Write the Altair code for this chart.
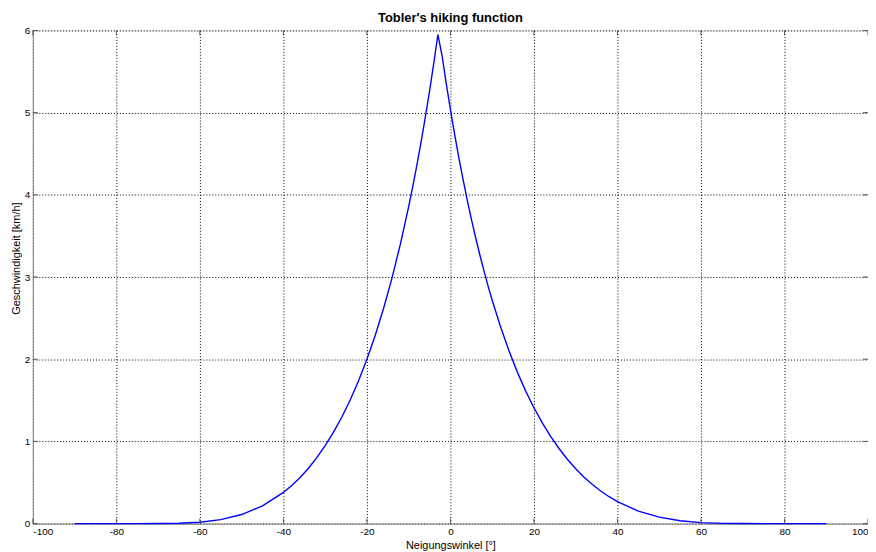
import altair as alt
import pandas as pd

angles = [-90, -85, -80, -75, -70, -65, -60, -55, -50, -45, -40, -38, -36, -34, -32,
          -30, -28, -26, -24, -22, -20, -18, -16, -14, -12, -10, -9, -8, -7, -6, -5,
          -4, -3, -2, -1, 0, 1, 2, 3, 4, 5, 6, 7, 8, 9, 10, 12, 14, 16, 18, 20, 22,
          24, 26, 28, 30, 32, 34, 36, 38, 40, 45, 50, 55, 60, 65, 70, 75, 80, 85, 90]
speeds = [0.0, 0.0, 0.0, 0.0, 0.0005, 0.0039, 0.0167, 0.048, 0.110, 0.216, 0.379,
          0.464, 0.562, 0.674, 0.802, 0.948, 1.112, 1.297, 1.504, 1.738, 2.000,
          2.292, 2.620, 2.987, 3.397, 3.856, 4.106, 4.370, 4.651, 4.948, 5.262,
          5.596, 5.950, 5.692, 5.354, 5.037, 4.738, 4.457, 4.193, 3.943, 3.708,
          3.487, 3.277, 3.080, 2.893, 2.717, 2.394, 2.105, 1.846, 1.615, 1.409,
          1.225, 1.060, 0.914, 0.783, 0.668, 0.565, 0.475, 0.396, 0.327, 0.267,
          0.152, 0.078, 0.034, 0.0117, 0.0028, 0.0003, 0.0, 0.0, 0.0, 0.0]

x_ticks = [-100, -80, -60, -40, -20, 0, 20, 40, 60, 80, 100]
y_ticks = [0, 1, 2, 3, 4, 5, 6]

W, H = 840, 496
FONT = "Liberation Sans"

df = pd.DataFrame({"angle": angles, "speed": speeds})
xt = pd.DataFrame({"t": x_ticks})
yt = pd.DataFrame({"t": y_ticks})

xs = alt.Scale(domain=[-100, 100], nice=False, zero=False)
ys = alt.Scale(domain=[0, 6], nice=False, zero=False)

grid_style = dict(grid=True, gridColor="#000000", gridDash=[1, 2], gridWidth=1,
                  gridOpacity=1)

line = alt.Chart(df).mark_line(color="#0000FF", strokeWidth=1.4).encode(
    x=alt.X("angle:Q", scale=xs, title="Neigungswinkel [°]",
            axis=alt.Axis(values=x_ticks, tickSize=0, labelPadding=3,
                          labelExpr="'' + datum.value", titlePadding=3,
                          titleFontWeight="normal", **grid_style)),
    y=alt.Y("speed:Q", scale=ys, title="Geschwindigkeit [km/h]",
            axis=alt.Axis(values=y_ticks, tickSize=0, labelPadding=3,
                          labelExpr="'' + datum.value",
                          titleFontWeight="normal", titleX=-16, titleY=229,
                          titleAngle=270, titleAlign="center",
                          titleBaseline="middle", **grid_style)),
)

tick_style = dict(color="#555555", strokeWidth=1)
xtop = alt.Chart(xt).mark_rule(**tick_style).encode(
    x=alt.X("t:Q", scale=xs), y=alt.value(0), y2=alt.value(5))
xbot = alt.Chart(xt).mark_rule(**tick_style).encode(
    x=alt.X("t:Q", scale=xs), y=alt.value(H - 5), y2=alt.value(H))
yleft = alt.Chart(yt).mark_rule(**tick_style).encode(
    y=alt.Y("t:Q", scale=ys), x=alt.value(0), x2=alt.value(5))
yright = alt.Chart(yt).mark_rule(**tick_style).encode(
    y=alt.Y("t:Q", scale=ys), x=alt.value(W - 5), x2=alt.value(W))

chart = alt.layer(line, xtop, xbot, yleft, yright).properties(
    width=W, height=H,
    title=alt.Title("Tobler's hiking function", font=FONT, fontSize=13,
                    fontWeight="bold", color="#000000", offset=1),
    autosize=alt.AutoSizeParams(type="none"),
    padding={"left": 25, "top": 21, "right": 0, "bottom": 28},
).configure_view(
    stroke="#555555", strokeWidth=1
).configure_axis(
    domainColor="#555555", domainWidth=1,
    labelFont=FONT, labelFontSize=9, labelColor="#222222",
    titleFont=FONT, titleFontSize=7, titleColor="#333333",
).configure(background="white")

chart.save("out.html", embed_options={"renderer": "svg", "actions": False})
